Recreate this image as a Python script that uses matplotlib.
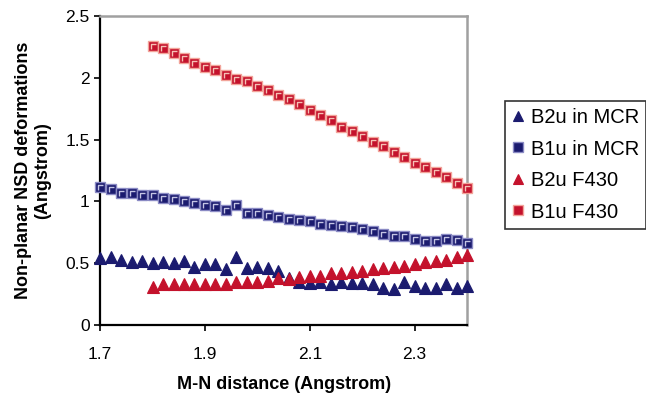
import numpy as np
import matplotlib.pyplot as plt
import matplotlib as mpl
from matplotlib.path import Path

mpl.rcParams['font.family'] = ['Liberation Sans', 'DejaVu Sans']

NAVY = '#1b1b6f'; NAVY_EDGE = '#8a8ac4'; NAVY_HI = '#c4c4e4'
RED = '#c4122c'; RED_EDGE = '#f2a49a'; RED_HI = '#f6c0b4'

# M-N distance (Angstrom)
x_mcr = [1.70, 1.72, 1.74, 1.76, 1.78, 1.80, 1.82, 1.84, 1.86, 1.88, 1.90, 1.92,
         1.94, 1.96, 1.98, 2.00, 2.02, 2.04, 2.06, 2.08, 2.10, 2.12, 2.14, 2.16,
         2.18, 2.20, 2.22, 2.24, 2.26, 2.28, 2.30, 2.32, 2.34, 2.36, 2.38, 2.40]
x_f430 = x_mcr[5:]

b2u_mcr = [0.54, 0.55, 0.53, 0.51, 0.52, 0.50, 0.51, 0.50, 0.52, 0.47, 0.49, 0.49,
           0.45, 0.55, 0.46, 0.47, 0.46, 0.44, 0.38, 0.35, 0.34, 0.35, 0.33, 0.35,
           0.34, 0.34, 0.33, 0.30, 0.29, 0.35, 0.32, 0.30, 0.30, 0.33, 0.30, 0.32]
b1u_mcr = [1.12, 1.10, 1.07, 1.07, 1.05, 1.05, 1.03, 1.02, 1.00, 0.99, 0.97, 0.96,
           0.93, 0.97, 0.91, 0.91, 0.89, 0.87, 0.86, 0.85, 0.84, 0.82, 0.81, 0.80,
           0.79, 0.78, 0.76, 0.74, 0.72, 0.72, 0.70, 0.68, 0.68, 0.70, 0.69, 0.66]
b2u_f430 = [0.31, 0.33, 0.33, 0.33, 0.33, 0.33, 0.33, 0.33, 0.35, 0.35, 0.35,
            0.36, 0.38, 0.37, 0.39, 0.40, 0.40, 0.42, 0.42, 0.43, 0.44, 0.45,
            0.46, 0.47, 0.48, 0.49, 0.51, 0.52, 0.53, 0.55, 0.57]
b1u_f430 = [2.26, 2.24, 2.20, 2.16, 2.12, 2.09, 2.06, 2.02, 1.99, 1.97, 1.93,
            1.90, 1.86, 1.83, 1.79, 1.74, 1.70, 1.66, 1.60, 1.57, 1.53, 1.48,
            1.45, 1.40, 1.36, 1.31, 1.28, 1.24, 1.20, 1.15, 1.11]

xticks = [1.7, 1.9, 2.1, 2.3]
yticks = [0, 0.5, 1, 1.5, 2, 2.5]
ytick_labels = ['0', '0.5', '1', '1.5', '2', '2.5']

# little corner highlight drawn inside the square markers (Excel look)
corner = Path([(-1, -1), (-1, 1), (1, 1)], [Path.MOVETO, Path.LINETO, Path.LINETO])

fig = plt.figure(figsize=(6.46, 3.96), dpi=100)
ax = fig.add_axes([0.155, 0.179, 0.568, 0.781])

ax.plot(x_mcr, b2u_mcr, ls='none', marker='^', ms=8.5, mfc=NAVY, mec=NAVY,
        mew=0.8, label='B2u in MCR', clip_on=False, zorder=3)
ax.plot(x_mcr, b1u_mcr, ls='none', marker='s', ms=7.8, mfc=NAVY, mec=NAVY_EDGE,
        mew=1.0, label='B1u in MCR', clip_on=False, zorder=3)
ax.plot(x_mcr, b1u_mcr, ls='none', marker=corner, ms=3.6, mfc='none', mec=NAVY_HI,
        mew=1.0, clip_on=False, zorder=4)
ax.plot(x_f430, b2u_f430, ls='none', marker='^', ms=8.5, mfc=RED, mec=RED,
        mew=0.8, label='B2u F430', clip_on=False, zorder=3)
ax.plot(x_f430, b1u_f430, ls='none', marker='s', ms=7.8, mfc=RED, mec=RED_EDGE,
        mew=1.0, label='B1u F430', clip_on=False, zorder=3)
ax.plot(x_f430, b1u_f430, ls='none', marker=corner, ms=3.6, mfc='none', mec=RED_HI,
        mew=1.0, clip_on=False, zorder=4)

ax.set_xlim(1.7, 2.4)
ax.set_ylim(0, 2.5)
ax.set_xticks(xticks)
ax.set_xticklabels([f'{t:.1f}' for t in xticks])
ax.set_yticks(yticks)
ax.set_yticklabels(ytick_labels)
ax.tick_params(direction='out', length=4, width=1.2, labelsize=12.5, colors='black')
ax.tick_params(axis='x', pad=12)

for s in ['left', 'bottom']:
    ax.spines[s].set_color('black'); ax.spines[s].set_linewidth(1.6)
for s in ['top', 'right']:
    ax.spines[s].set_color('#a0a0a0'); ax.spines[s].set_linewidth(1.8)

ax.set_xlabel('M-N distance (Angstrom)', fontsize=13, fontweight='bold', labelpad=10)
ax.set_ylabel('Non-planar NSD deformations\n(Angstrom)', fontsize=13,
              fontweight='bold', labelpad=10)

handles, labels = ax.get_legend_handles_labels()
leg = fig.legend(handles, labels, loc='upper left', bbox_to_anchor=(505/646, 1-101/396),
                 frameon=True, fancybox=False, fontsize=14.5, handlelength=0.6,
                 handletextpad=0.35, borderpad=0.35, labelspacing=0.62,
                 borderaxespad=0, markerscale=0.9)
leg.get_frame().set_edgecolor('black')
leg.get_frame().set_linewidth(1.2)

plt.savefig('out.png', dpi=100)
